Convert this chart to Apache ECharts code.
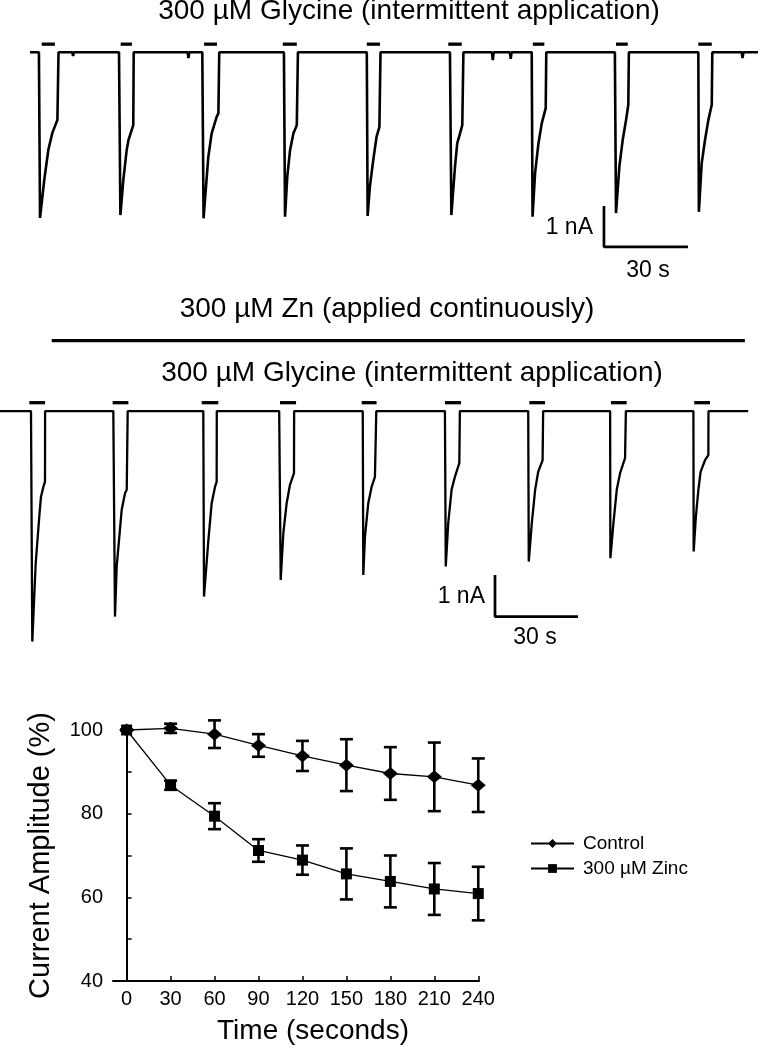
<!DOCTYPE html>
<html><head><meta charset="utf-8">
<script src="https://cdn.jsdelivr.net/npm/echarts@6/dist/echarts.min.js"></script>
<style>html,body{margin:0;padding:0;background:#fff}#c{width:760px;height:1049px}</style>
</head><body><div id="c"></div>
<script>
// ---------- Panel A: control, 300 µM glycine (time s, current nA) ----------
const topSpan = [10.7, 270.7];
const topSweeps = [
  [[13.9,0],[14.3,-4.07],[15.8,-3.14],[17.25,-2.40],[18.7,-1.98],[20.5,-1.66],[20.9,0]],
  [[42.5,0],[43.0,-4.0],[44.04,-3.14],[45.25,-2.40],[45.9,-2.15],[47.6,-1.79],[47.75,0]],
  [[72.25,0],[72.7,-4.08],[73.2,-3.63],[74.4,-2.57],[75.6,-1.99],[77.4,-1.58],[78.0,-1.50],[78.3,0]],
  [[101.4,0],[101.8,-4.04],[102.6,-3.06],[103.6,-2.40],[104.8,-1.99],[106.0,-1.79],[106.4,0]],
  [[131.0,0],[131.3,-4.02],[132.1,-3.30],[133.3,-2.65],[134.5,-2.07],[135.5,-1.83],[135.9,0]],
  [[160.7,0],[161.2,-4.0],[162.5,-2.81],[163.3,-2.24],[164.3,-1.99],[165.1,-1.79],[165.5,0]],
  [[189.9,0],[190.2,-4.04],[191.1,-2.97],[192.3,-2.24],[193.5,-1.74],[194.9,-1.37],[195.1,0]],
  [[219.6,0],[220.0,-3.95],[221.2,-2.81],[222.4,-2.15],[223.6,-1.66],[224.4,-1.29],[224.6,0]],
  [[249.4,0],[249.6,-3.92],[250.6,-2.73],[251.8,-2.15],[253.0,-1.66],[254.2,-1.29],[254.4,0]]
];
const topBlips = [[26.1,-0.09],[67.3,-0.14],[176.0,-0.19],[182.4,-0.16],[265.2,-0.14]];
const topGlyBars = [[14.9,19.6,0.2],[43.1,47.1,0.2],[72.9,77.5,0.2],[101.0,106.0,0.2],[131.0,135.7,0.2],[160.1,164.9,0.2],[190.3,194.4,0.2],[220.0,224.2,0.2],[249.4,254.2,0.2]];
const topScaleCorner = [215.7, -4.78];

// ---------- Panel B: 300 µM Zn continuous + glycine ----------
const midSpan = [0, 270.4];
const midSweeps = [
  [[11.2,0],[11.67,-5.53],[12.9,-3.65],[14.2,-2.53],[14.8,-2.06],[15.66,-1.82],[16.26,-1.70],[16.3,0]],
  [[40.95,0],[41.56,-4.93],[42.17,-3.73],[43.98,-2.37],[45.18,-1.97],[45.8,-1.89],[46.15,0]],
  [[73.47,0],[73.73,-4.45],[75.28,-3.12],[76.5,-2.21],[77.7,-1.82],[78.3,-1.70],[78.35,0]],
  [[100.9,0],[101.45,-4.05],[102.4,-2.93],[103.6,-2.21],[104.8,-1.77],[106.25,-1.49],[106.3,0]],
  [[131.1,0],[131.3,-3.93],[131.9,-3.01],[133.1,-2.21],[134.3,-1.82],[135.5,-1.58],[136.0,0]],
  [[160.8,0],[161.1,-3.73],[162.0,-2.69],[163.2,-1.89],[164.4,-1.58],[166.0,-1.25],[166.2,0]],
  [[190.9,0],[191.1,-3.61],[192.2,-2.69],[193.4,-1.89],[194.5,-1.46],[196.1,-1.18],[196.3,0]],
  [[220.5,0],[220.6,-3.53],[221.7,-2.69],[222.9,-1.89],[224.1,-1.49],[225.9,-1.13],[226.2,0]],
  [[250.6,0],[250.7,-3.37],[251.5,-2.53],[252.4,-1.89],[253.2,-1.46],[254.8,-1.18],[256.0,-1.06],[256.05,0]]
];
const midGlyBars = [[10.6,16.3,0.2],[40.7,46.4,0.2],[72.9,78.9,0.2],[101.2,107.0,0.2],[130.7,136.1,0.2],[160.8,166.6,0.2],[191.3,197.0,0.2],[220.8,226.5,0.2],[250.9,256.6,0.2]];
const znApplication = [18.7, 269.2, 1.686];
const midScaleCorner = [178.9, -4.93];
const scaleBarSize = [30, 1]; // 30 s, 1 nA

// ---------- Panel C: summary ----------
const timePoints = [0,30,60,90,120,150,180,210,240];
const xTickLabels = ['0','30','60','90','120','150','180','210','240'];
const controlMean = [100,100.4,99.0,96.3,93.8,91.6,89.6,88.8,86.8];
const controlErr  = [0,1.1,3.3,2.7,3.6,6.2,6.3,8.2,6.4];
const zincMean    = [100,86.8,79.4,71.2,68.9,65.6,63.8,62.0,60.9];
const zincErr     = [0,1.1,3.1,2.7,3.5,6.1,6.2,6.2,6.4];

const FONT = "'Liberation Sans', Arial, sans-serif";

function buildTrace(span, sweeps, blips) {
  const events = sweeps.map(s => ({t: s[0][0], pts: s}))
    .concat(blips.map(b => ({t: b[0], pts: [[b[0]-0.3,0],[b[0],b[1]],[b[0]+0.3,0]]})));
  events.sort((a,b) => a.t - b.t);
  const pts = [[span[0],0]];
  events.forEach(e => pts.push(...e.pts));
  pts.push([span[1],0]);
  return pts;
}
function scaleBar(c) {
  return [[c[0], c[1]+scaleBarSize[1]], [c[0], c[1]], [c[0]+scaleBarSize[0], c[1]]];
}
function barRender(thick) {
  return function (params, api) {
    const a = api.coord([api.value(0), api.value(2)]);
    const b = api.coord([api.value(1), api.value(2)]);
    return {type:'rect', shape:{x:a[0], y:a[1]-thick/2, width:b[0]-a[0], height:thick}, style:{fill:'#000'}};
  };
}
function errRender(params, api) {
  const x = api.value(0);
  const lo = api.coord([x, api.value(1)]);
  const hi = api.coord([x, api.value(2)]);
  const w = 6.5;
  const st = {stroke:'#000', lineWidth:2.6};
  return {type:'group', children:[
    {type:'line', shape:{x1:lo[0], y1:lo[1], x2:hi[0], y2:hi[1]}, style:st},
    {type:'line', shape:{x1:lo[0]-w, y1:lo[1], x2:lo[0]+w, y2:lo[1]}, style:st},
    {type:'line', shape:{x1:hi[0]-w, y1:hi[1], x2:hi[0]+w, y2:hi[1]}, style:st}
  ]};
}

const traceLine = (w) => ({type:'line', showSymbol:false, symbol:'none', silent:true, clip:false,
  lineStyle:{color:'#000', width:w}, z:2, animation:false});

const option = {
  animation: false,
  backgroundColor: '#fff',
  textStyle: {fontFamily: FONT, color:'#000'},
  grid: [
    {left:0, top:40.1, width:760, height:211.6},
    {left:0, top:331.8, width:760, height:316.9},
    {left:113, top:730, width:366, height:251}
  ],
  xAxis: [
    {gridIndex:0, type:'value', min:0, max:271.43, show:false},
    {gridIndex:1, type:'value', min:0, max:274.67, show:false},
    {gridIndex:2, type:'value', min:-9.3, max:240.5,
     name:'Time (seconds)', nameLocation:'middle', nameGap:36,
     nameTextStyle:{fontSize:28, color:'#000', fontFamily:FONT, padding:[0,0,0,34]},
     axisLine:{lineStyle:{color:'#000', width:2}},
     axisTick:{inside:true, length:5, lineStyle:{color:'#000', width:1.5}, customValues: timePoints},
     axisLabel:{fontSize:20, color:'#000', fontFamily:FONT, margin:8, customValues: timePoints,
       formatter: v => xTickLabels[timePoints.indexOf(v)] ?? ''},
     splitLine:{show:false}}
  ],
  yAxis: [
    {gridIndex:0, type:'value', min:-4.9, max:0.3, show:false},
    {gridIndex:1, type:'value', min:-5.7, max:1.9, show:false},
    {gridIndex:2, type:'value', min:40, max:100, interval:10,
     name:'Current Amplitude (%)', nameLocation:'middle', nameGap:58,
     nameTextStyle:{fontSize:29, color:'#000', fontFamily:FONT},
     axisLine:{show:true, lineStyle:{color:'#000', width:2}},
     axisTick:{show:true, inside:true, length:5, lineStyle:{color:'#000', width:1.5}},
     axisLabel:{fontSize:20, color:'#000', fontFamily:FONT, margin:10,
       formatter: v => (v % 20 === 0 ? String(v) : '')},
     splitLine:{show:false}}
  ],
  legend: {
    data:['Control','300 µM Zinc'], orient:'vertical', left:525, top:829,
    itemWidth:43, itemHeight:11, itemGap:6,
    textStyle:{fontSize:19, color:'#000', fontFamily:FONT, padding:[0,0,0,4]}
  },
  graphic: [
    {type:'text', x:409, y:11.5, style:{text:'300 µM Glycine (intermittent application)', font:'28px '+FONT, fill:'#000', align:'center', verticalAlign:'middle'}},
    {type:'text', x:387, y:309, style:{text:'300 µM Zn (applied continuously)', font:'28px '+FONT, fill:'#000', align:'center', verticalAlign:'middle'}},
    {type:'text', x:412, y:373, style:{text:'300 µM Glycine (intermittent application)', font:'28px '+FONT, fill:'#000', align:'center', verticalAlign:'middle'}},
    {type:'text', x:593, y:228, style:{text:'1 nA', font:'23px '+FONT, fill:'#000', align:'right', verticalAlign:'middle'}},
    {type:'text', x:648, y:271, style:{text:'30 s', font:'23px '+FONT, fill:'#000', align:'center', verticalAlign:'middle'}},
    {type:'text', x:485, y:597, style:{text:'1 nA', font:'23px '+FONT, fill:'#000', align:'right', verticalAlign:'middle'}},
    {type:'text', x:535, y:638, style:{text:'30 s', font:'23px '+FONT, fill:'#000', align:'center', verticalAlign:'middle'}}
  ],
  series: [
    Object.assign(traceLine(2.6), {name:'control trace', xAxisIndex:0, yAxisIndex:0, data: buildTrace(topSpan, topSweeps, topBlips)}),
    {type:'custom', name:'glycine A', xAxisIndex:0, yAxisIndex:0, silent:true, clip:false,
     encode:{x:[0,1], y:2}, renderItem: barRender(3.3), data: topGlyBars},
    Object.assign(traceLine(2.7), {name:'scale A', xAxisIndex:0, yAxisIndex:0, data: scaleBar(topScaleCorner)}),

    Object.assign(traceLine(2.3), {name:'zinc trace', xAxisIndex:1, yAxisIndex:1, data: buildTrace(midSpan, midSweeps, [])}),
    {type:'custom', name:'glycine B', xAxisIndex:1, yAxisIndex:1, silent:true, clip:false,
     encode:{x:[0,1], y:2}, renderItem: barRender(3.3), data: midGlyBars},
    Object.assign(traceLine(3.3), {name:'zn application', xAxisIndex:1, yAxisIndex:1,
      data: [[znApplication[0], znApplication[2]], [znApplication[1], znApplication[2]]]}),
    Object.assign(traceLine(2.7), {name:'scale B', xAxisIndex:1, yAxisIndex:1, data: scaleBar(midScaleCorner)}),

    {type:'custom', name:'control err', xAxisIndex:2, yAxisIndex:2, silent:true, clip:false, z:2,
     encode:{x:0, y:[1,2]}, renderItem: errRender,
     data: timePoints.map((t,i) => [t, controlMean[i]-controlErr[i], controlMean[i]+controlErr[i]])},
    {type:'custom', name:'zinc err', xAxisIndex:2, yAxisIndex:2, silent:true, clip:false, z:2,
     encode:{x:0, y:[1,2]}, renderItem: errRender,
     data: timePoints.map((t,i) => [t, zincMean[i]-zincErr[i], zincMean[i]+zincErr[i]])},
    {type:'line', name:'Control', xAxisIndex:2, yAxisIndex:2, clip:false, z:4,
     data: timePoints.map((t,i) => [t, controlMean[i]]),
     symbol:'diamond', symbolSize:[15,13], lineStyle:{color:'#000', width:1.3}, itemStyle:{color:'#000'}},
    {type:'line', name:'300 µM Zinc', xAxisIndex:2, yAxisIndex:2, clip:false, z:4,
     data: timePoints.map((t,i) => [t, zincMean[i]]),
     symbol:'rect', symbolSize:11, lineStyle:{color:'#000', width:1.3}, itemStyle:{color:'#000'}}
  ]
};
const chart = echarts.init(document.getElementById('c'), null, {renderer:'canvas'});
chart.setOption(option);
</script></body></html>
